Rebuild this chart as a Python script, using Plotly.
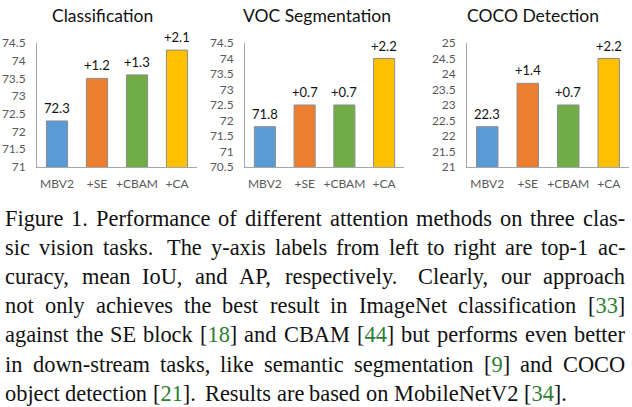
import plotly.graph_objects as go
from plotly.subplots import make_subplots

# data
methods = ['MBV2', '+SE', '+CBAM', '+CA']
bar_colors = ['#5b9bd5', '#ed7d31', '#70ad47', '#ffc000']

cls_acc = [72.3, 73.5, 73.6, 74.3]
cls_labels = ['72.3', '+1.2', '+1.3', '+2.1']
voc_miou = [71.8, 72.5, 72.5, 74.0]
voc_labels = ['71.8', '+0.7', '+0.7', '+2.2']
coco_ap = [22.3, 23.7, 23.0, 24.5]
coco_labels = ['22.3', '+1.4', '+0.7', '+2.2']

panel_titles = ['Classification', 'VOC Segmentation', 'COCO Detection']
y_ranges = [[71, 74.5], [70.5, 74.5], [21, 25]]

caption_lines = [
    'Figure 1. Performance of different attention methods on three clas-',
    'sic vision tasks. The y-axis labels from left to right are top-1 ac-',
    'curacy, mean IoU, and AP, respectively. Clearly, our approach',
    'not only achieves the best result in ImageNet classification [33]',
    'against the SE block [18] and CBAM [44] but performs even better',
    'in down-stream tasks, like semantic segmentation [9] and COCO',
    'object detection [21]. Results are based on MobileNetV2 [34].',
]

W, H = 632, 407
FONT = 'Lato'
SERIF = 'Liberation Serif'
CITE = '#2f7d32'

# times-roman advance widths (per 1000 em), used to justify the caption
tw = {' ': 250, ',': 250, '-': 333, '.': 250, '[': 333, ']': 333}
tw.update({d: 500 for d in '0123456789'})
tw.update(dict(zip('ABCDEFGHIJKLMNOPQRSTUVWXYZ',
                   [722, 667, 667, 722, 611, 556, 722, 722, 333, 389, 722, 611, 889,
                    722, 722, 556, 722, 667, 556, 611, 722, 722, 944, 722, 722, 611])))
tw.update(dict(zip('abcdefghijklmnopqrstuvwxyz',
                   [444, 500, 444, 500, 444, 333, 500, 500, 278, 278, 500, 278, 778,
                    500, 500, 500, 500, 333, 389, 278, 500, 500, 722, 500, 500, 444])))


def word_width(w, size):
    return sum(tw.get(c, 500) for c in w) * size / 1000.0


def colour_cites(w):
    if '[' in w:
        a = w.index('[') + 1
        b = w.index(']')
        return w[:a] + f"<span style='color:{CITE}'>" + w[a:b] + '</span>' + w[b:]
    return w


fig = make_subplots(rows=1, cols=3)

series = [(cls_acc, cls_labels), (voc_miou, voc_labels), (coco_ap, coco_labels)]
x_domains = [[37, 197], [245, 404], [467, 629]]
y_dom = [1 - 167 / H, 1 - 43 / H]
title_x = [102, 317, 533]

annotations = []
for i, (vals, labels) in enumerate(series):
    fig.add_trace(go.Bar(x=methods, y=vals,
                         marker=dict(color=bar_colors, line=dict(color='#8c8c8c', width=1)),
                         width=0.53, showlegend=False, hoverinfo='skip'),
                  row=1, col=i + 1)
    ax = '' if i == 0 else str(i + 1)
    fig.update_layout(**{
        f'xaxis{ax}': dict(domain=[x_domains[i][0] / W, x_domains[i][1] / W],
                           showline=True, linecolor='#a6a6a6', linewidth=1,
                           showgrid=False, zeroline=False, ticks='', automargin=False,
                           ticklabelstandoff=6,
                           tickfont=dict(family=FONT, size=12, color='#595959')),
        f'yaxis{ax}': dict(domain=y_dom, range=y_ranges[i], dtick=0.5,
                           showline=True, linecolor='#a6a6a6', linewidth=1,
                           showgrid=False, zeroline=False, ticks='', automargin=False,
                           ticklabelstandoff=8,
                           tickfont=dict(family=FONT, size=12, color='#595959')),
    })
    for m, v, t in zip(methods, vals, labels):
        annotations.append(dict(x=m, y=v, xref=f'x{ax}', yref=f'y{ax}', text=t,
                                showarrow=False, yanchor='bottom', yshift=3,
                                font=dict(family=FONT, size=13, color='#111111')))
    annotations.append(dict(x=title_x[i] / W, y=1 - 15 / H, xref='paper', yref='paper',
                            text=panel_titles[i], showarrow=False,
                            xanchor='center', yanchor='middle',
                            font=dict(family=FONT, size=17.5, color='#111111')))

# caption, justified word by word between x=5 and x=625
cap_size = 22.4
left, right = 5, 625
for n, line in enumerate(caption_lines):
    words = line.split(' ')
    widths = [word_width(w, cap_size) for w in words]
    weights = [1.6 if w.endswith('.') and w != '1.' else 1.0 for w in words[:-1]]
    if n == len(caption_lines) - 1:
        gaps = [cap_size * 0.25 * wt for wt in weights]
    else:
        free = (right - left) - sum(widths)
        gaps = [free * wt / sum(weights) for wt in weights]
    x = left
    baseline = 225 + n * 29.2
    for k, w in enumerate(words):
        annotations.append(dict(x=(x - 2) / W, y=1 - (baseline - 7) / H,
                                xref='paper', yref='paper', text=colour_cites(w),
                                showarrow=False, xanchor='left', yanchor='middle',
                                font=dict(family=SERIF, size=cap_size, color='#111111')))
        if k < len(gaps):
            x += widths[k] + gaps[k]

fig.update_layout(width=W, height=H, margin=dict(l=0, r=0, t=0, b=0),
                  paper_bgcolor='white', plot_bgcolor='white',
                  bargap=0.47, annotations=annotations)

# drop the default 8px body margin so the figure sits at the window origin
fig.write_html('out.html', config={'displayModeBar': False},
               post_script="document.body.style.margin='0';")
